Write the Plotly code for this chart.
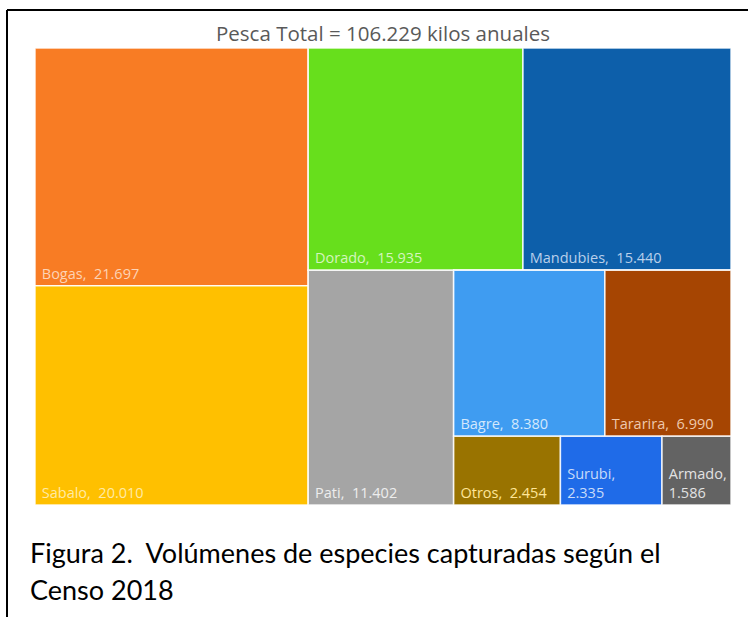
import plotly.graph_objects as go

W, H = 748, 617

# Data
species = ["Bogas", "Sabalo", "Dorado", "Mandubies", "Pati", "Bagre", "Tararira", "Otros", "Surubi", "Armado"]
kilos = [21697, 20010, 15935, 15440, 11402, 8380, 6990, 2454, 2335, 1586]
tile_colors = ["#F87C24", "#FFC000", "#67DF1C", "#0D5FAA", "#A5A5A5", "#3F9CF1", "#A64502", "#997300", "#1F6BE8", "#636363"]
label_colors = ["#FDD3B5", "#FFEAA6", "#D4F5BE", "#B9D0EA", "#EDEDED", "#D3E8FC", "#EEC9AE", "#FFE699", "#C8DBF9", "#E2E2E2"]
wrapped = ["Surubi", "Armado"]

# Hierarchy (ordered so the layout nests like the original)
node_ids = ["Total", "L", "Bogas", "Sabalo", "R", "RT", "Dorado", "Mandubies", "RB", "Pati",
            "RBR", "RBRT", "Bagre", "Tararira", "RBRB", "Otros", "Surubi", "Armado"]
node_parents = ["", "Total", "L", "L", "Total", "R", "RT", "RT", "R", "RB",
                "RB", "RBR", "RBRT", "RBRT", "RBR", "RBRB", "RBRB", "RBRB"]

title_text = "Pesca Total = 106.229 kilos anuales"
caption_lines = ["Figura 2.  Volúmenes de especies capturadas según el", "Censo 2018"]

val = dict(zip(species, kilos))
col = dict(zip(species, tile_colors))
tcol = dict(zip(species, label_colors))

labels, values, colors, tcolors, templates = [], [], [], [], []
for nid in node_ids:
    if nid in val:
        labels.append(nid)
        values.append(val[nid])
        colors.append(col[nid])
        tcolors.append(tcol[nid])
        templates.append(" %{label},<br> %{value:,}" if nid in wrapped else " %{label},  %{value:,}")
    else:
        labels.append(nid)
        values.append(0)
        colors.append("#FFFFFF")
        tcolors.append("rgba(0,0,0,0)")
        templates.append("")

fig = go.Figure(go.Treemap(
    ids=node_ids,
    labels=labels,
    parents=node_parents,
    values=values,
    branchvalues="remainder",
    sort=False,
    tiling=dict(packing="slice-dice", pad=0),
    marker=dict(colors=colors, line=dict(color="rgba(255,255,255,0.85)", width=1.5),
                pad=dict(t=0, l=0, r=0, b=0)),
    texttemplate=templates,
    textposition="bottom left",
    textfont=dict(family="Open Sans, sans-serif", size=14.5, color=tcolors),
    pathbar=dict(visible=False),
    hoverinfo="skip",
    domain=dict(x=[35 / W, 731 / W], y=[1 - 505 / H, 1 - 48 / H]),
))

fig.update_layout(
    width=W, height=H,
    margin=dict(l=0, r=0, t=0, b=0),
    paper_bgcolor="white",
    separators=",.",
    showlegend=False,
    annotations=[
        dict(text=title_text, x=383 / W, y=1 - 33 / H, xref="paper", yref="paper",
             showarrow=False, xanchor="center", yanchor="middle",
             font=dict(family="Open Sans, sans-serif", size=20.5, color="#595959")),
        dict(text=caption_lines[0], x=28 / W, y=1 - 552 / H, xref="paper", yref="paper",
             showarrow=False, xanchor="left", yanchor="middle",
             font=dict(family="Lato, sans-serif", size=27, color="#000000")),
        dict(text=caption_lines[1], x=28 / W, y=1 - 589 / H, xref="paper", yref="paper",
             showarrow=False, xanchor="left", yanchor="middle",
             font=dict(family="Lato, sans-serif", size=27, color="#000000")),
    ],
    shapes=[
        dict(type="line", xref="paper", yref="paper", x0=7 / W, x1=7 / W, y0=0, y1=1 - 10 / H,
             line=dict(color="black", width=2)),
        dict(type="line", xref="paper", yref="paper", x0=7 / W, x1=1, y0=1 - 10 / H, y1=1 - 10 / H,
             line=dict(color="black", width=2)),
    ],
)

fig.write_html("out.html", config={"displayModeBar": False},
               post_script="document.body.style.margin='0';")
